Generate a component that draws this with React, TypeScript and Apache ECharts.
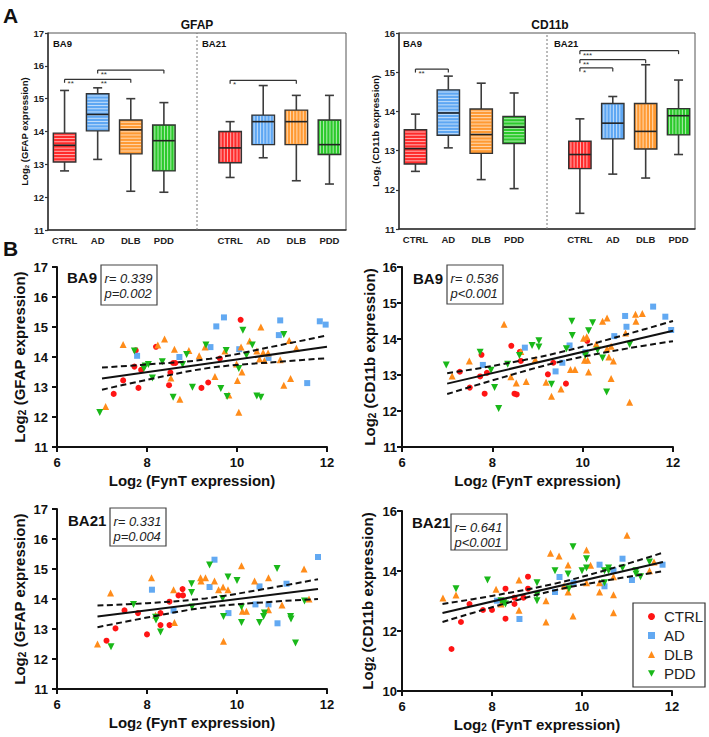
import React, { useEffect, useRef } from 'react';
import * as echarts from 'echarts';

const FONT = '"Liberation Sans", Arial, Helvetica, sans-serif';

const boxCategories = ['CTRL', 'AD', 'DLB', 'PDD', '', 'CTRL', 'AD', 'DLB', 'PDD'];
const groupNames = ['CTRL', 'AD', 'DLB', 'PDD'];

// five-number summaries [min, Q1, median, Q3, max]
const gfapBA9Box = [
  [12.8, 13.07, 13.58, 13.95, 15.25],
  [13.15, 14.02, 14.52, 15.15, 15.33],
  [12.18, 13.32, 14.05, 14.35, 15.0],
  [12.15, 12.8, 13.72, 14.2, 14.88],
];
const gfapBA21Box = [
  [12.6, 13.05, 13.5, 14.0, 14.3],
  [13.2, 13.6, 14.3, 14.5, 15.4],
  [12.5, 13.6, 14.3, 14.65, 15.1],
  [12.4, 13.3, 13.6, 14.35, 15.1],
];
const cd11bBA9Box = [
  [12.47, 12.66, 13.05, 13.53, 13.93],
  [13.07, 13.39, 13.96, 14.55, 14.9],
  [12.26, 12.93, 13.41, 14.06, 14.72],
  [12.03, 13.18, 13.6, 13.87, 14.47],
];
const cd11bBA21Box = [
  [11.4, 12.54, 12.9, 13.24, 13.81],
  [12.4, 13.3, 13.7, 14.2, 14.38],
  [12.3, 13.04, 13.49, 14.2, 15.19],
  [12.9, 13.4, 13.89, 14.07, 14.8],
];
const gfapStripes = ['h', 'h', 'h', 'v', 'v', 'v', 'v', 'v'];
const cd11bStripes = ['h', 'h', 'h', 'h', 'v', 'v', 'v', 'v'];

// brackets [fromCategory, toCategory, level]
const gfapBrackets = [[0, 2, 15.59], [1, 3, 15.87], [5, 7, 15.56]];
const gfapStars = [[0, 15.59], [1, 15.59], [1, 15.87], [5, 15.56]];
const gfapStarText = ['**', '**', '**', '*'];
const cd11bBrackets = [[0, 1, 15.08], [5, 8, 15.55], [5, 7, 15.32], [5, 6, 15.11]];
const cd11bStars = [[0, 15.08], [5, 15.55], [5, 15.32], [5, 15.11]];
const cd11bStarText = ['**', '***', '**', '*'];

// scatter: [log2 FynT, log2 marker]
const ba9GfapCtrl = [[7.75, 14.22], [8.2, 14.34], [7.72, 13.68], [7.87, 13.57], [7.47, 13.22], [7.26, 12.77], [7.81, 12.97], [8.52, 13.48], [8.58, 13.8], [8.63, 13.8], [8.49, 13.06], [9.21, 12.97], [9.36, 13.15], [9.62, 13.95], [10.08, 15.24]];
const ba9GfapAd = [[7.78, 14.04], [8.72, 14.0], [9.41, 14.33], [9.54, 15.02], [9.71, 15.32], [10.05, 14.26], [10.7, 13.97], [10.93, 14.73], [10.96, 15.22], [11.56, 13.13], [11.84, 15.19], [11.97, 15.08]];
const ba9GfapDlb = [[7.08, 12.35], [7.47, 14.42], [8.24, 14.4], [8.39, 14.6], [8.61, 14.26], [8.53, 13.3], [8.73, 12.59], [8.93, 14.22], [9.16, 14.04], [9.29, 14.33], [9.51, 13.35], [9.73, 14.2], [9.82, 12.73], [9.99, 13.77], [10.01, 13.22], [10.04, 12.16], [10.09, 14.33], [10.11, 13.5], [10.28, 14.53], [10.53, 15.0], [10.44, 14.2], [10.5, 13.93], [10.58, 14.15], [10.61, 13.88], [10.69, 14.13], [10.96, 13.91], [11.04, 13.06], [11.16, 14.55], [11.19, 13.28], [11.32, 14.29]];
const ba9GfapPdd = [[6.95, 12.15], [7.72, 14.2], [7.93, 13.62], [7.96, 13.7], [8.03, 13.75], [8.12, 13.3], [8.34, 13.84], [8.58, 12.66], [8.79, 13.75], [8.88, 14.08], [9.01, 12.99], [9.31, 14.4], [9.64, 12.95], [9.76, 14.22], [9.78, 12.68], [10.04, 13.62], [10.13, 14.89], [10.21, 14.06], [10.34, 14.4], [10.44, 12.7], [10.53, 12.66], [11.04, 14.75]];

const ba9Cd11bCtrl = [[7.28, 13.09], [7.5, 12.65], [7.73, 12.96], [7.76, 13.56], [7.83, 12.48], [7.88, 13.06], [8.42, 13.81], [8.49, 12.48], [8.54, 12.46], [8.63, 13.39], [8.61, 13.64], [9.23, 13.02], [9.35, 13.34], [9.63, 12.76], [10.1, 13.95]];
const ba9Cd11bAd = [[7.79, 13.28], [8.72, 13.76], [9.4, 13.1], [9.55, 13.34], [9.71, 13.82], [10.06, 13.63], [10.7, 14.08], [10.94, 14.64], [10.97, 14.34], [11.56, 14.9], [11.83, 14.62], [11.96, 14.25]];
const ba9Cd11bDlb = [[7.11, 12.97], [7.49, 13.39], [8.26, 14.41], [8.41, 12.95], [8.53, 12.78], [8.63, 13.65], [8.75, 12.82], [8.95, 13.43], [9.19, 12.8], [9.31, 12.41], [9.52, 12.61], [9.73, 13.15], [9.83, 13.15], [10.02, 14.02], [10.04, 13.41], [10.09, 14.06], [10.11, 13.41], [10.13, 13.08], [10.3, 13.86], [10.44, 14.49], [10.54, 14.58], [10.54, 13.73], [10.58, 13.5], [10.63, 12.9], [10.63, 13.8], [10.68, 13.39], [10.95, 14.17], [11.04, 12.24], [11.18, 14.49], [11.17, 14.69], [11.32, 14.71]];
const ba9Cd11bPdd = [[6.98, 13.28], [7.73, 13.63], [7.97, 13.13], [8.05, 12.65], [8.14, 12.07], [8.34, 13.3], [8.6, 13.54], [8.88, 13.82], [9.03, 13.95], [9.03, 13.78], [9.31, 12.74], [9.64, 13.73], [9.76, 14.49], [9.77, 14.1], [10.06, 13.54], [10.13, 14.23], [10.22, 14.45], [10.33, 13.69], [10.44, 13.47], [10.53, 12.53], [11.04, 13.85]];

const ba21GfapCtrl = [[7.1, 12.61], [7.3, 13.02], [7.5, 13.62], [7.8, 13.53], [8.0, 12.82], [8.3, 13.53], [8.3, 13.13], [8.5, 13.91], [8.5, 13.13], [8.7, 14.12], [8.8, 14.12], [8.79, 14.33]];
const ba21GfapAd = [[8.11, 14.31], [8.59, 13.62], [9.39, 14.4], [9.5, 15.31], [9.81, 13.53], [10.41, 13.82], [10.5, 14.42], [10.7, 13.82], [10.9, 13.19], [11.1, 14.51], [11.8, 15.4]];
const ba21GfapDlb = [[6.9, 12.5], [7.19, 14.2], [8.1, 14.71], [8.19, 13.46], [8.59, 14.31], [8.61, 13.22], [9.19, 14.71], [9.2, 14.6], [9.3, 14.71], [9.5, 14.6], [9.59, 14.31], [9.69, 14.4], [9.7, 12.59], [9.8, 14.31], [10.1, 15.11], [10.12, 13.59], [10.21, 13.59], [10.39, 14.6], [10.7, 14.71], [10.7, 13.64], [11.0, 13.8], [11.49, 15.0], [11.6, 14.0]];
const ba21GfapPdd = [[7.2, 12.41], [7.7, 13.82], [8.19, 13.39], [8.2, 13.3], [8.3, 12.9], [8.99, 14.51], [8.99, 14.22], [9.0, 13.73], [9.39, 15.13], [9.68, 14.02], [9.7, 13.42], [9.8, 14.73], [10.0, 14.62], [10.1, 13.73], [10.1, 13.22], [10.5, 13.22], [10.59, 13.42], [10.61, 13.53], [10.89, 15.02], [11.19, 13.42], [11.2, 13.33], [11.3, 12.53], [11.5, 13.93]];

const ba21Cd11bCtrl = [[7.1, 11.4], [7.31, 12.3], [7.5, 12.9], [7.8, 12.7], [8.0, 12.7], [8.3, 12.41], [8.3, 13.41], [8.5, 13.11], [8.5, 12.9], [8.7, 13.11], [8.8, 13.41], [8.8, 13.81]];
const ba21Cd11bAd = [[8.11, 13.01], [8.61, 12.4], [9.4, 13.3], [9.5, 13.8], [9.81, 13.61], [10.39, 14.21], [10.5, 13.49], [10.7, 14.01], [10.9, 14.41], [11.11, 13.7], [11.79, 14.21]];
const ba21Cd11bDlb = [[6.91, 13.1], [7.2, 13.2], [8.09, 13.39], [8.2, 12.9], [8.6, 12.69], [8.6, 13.7], [9.2, 12.3], [9.2, 13.01], [9.3, 14.59], [9.49, 14.5], [9.6, 13.5], [9.69, 13.3], [9.69, 14.2], [9.8, 12.5], [10.1, 14.7], [10.1, 13.61], [10.19, 14.19], [10.39, 13.61], [10.39, 13.3], [10.7, 13.81], [10.7, 13.21], [10.7, 12.61], [11.0, 15.19], [11.5, 14.01], [11.6, 14.3]];
const ba21Cd11bPdd = [[7.2, 13.41], [7.9, 13.7], [8.2, 13.01], [8.26, 12.94], [8.3, 12.9], [9.0, 13.61], [9.0, 13.21], [9.0, 13.01], [9.4, 14.01], [9.69, 13.9], [9.71, 13.41], [9.8, 14.81], [10.0, 14.01], [10.1, 14.41], [10.1, 14.1], [10.5, 14.01], [10.5, 13.61], [10.59, 14.1], [10.59, 14.01], [10.9, 14.1], [11.2, 14.01], [11.2, 13.9], [11.3, 13.81], [11.5, 14.3]];

// regression fit and 95% band
const ba9GfapFit = [[7, 13.28], [12, 14.34]];
const ba9GfapUpper = [[7, 13.65], [8, 13.75], [9.4, 13.94], [11, 14.41], [12, 14.72]];
const ba9GfapLower = [[7, 12.91], [8, 13.24], [9.4, 13.64], [11, 13.85], [12, 13.96]];
const ba9Cd11bFit = [[7, 12.76], [12, 14.23]];
const ba9Cd11bUpper = [[7, 13.05], [8, 13.25], [9.5, 13.63], [11, 14.14], [12, 14.5]];
const ba9Cd11bLower = [[7, 12.47], [8, 12.85], [9.5, 13.37], [11, 13.74], [12, 13.94]];
const ba21GfapFit = [[6.9, 13.42], [11.8, 14.33]];
const ba21GfapUpper = [[6.9, 13.78], [8, 13.86], [9.3, 14.02], [10.6, 14.33], [11.8, 14.66]];
const ba21GfapLower = [[6.9, 13.06], [8, 13.38], [9.3, 13.72], [10.6, 13.89], [11.8, 14.0]];
const ba21Cd11bFit = [[6.9, 12.6], [11.8, 14.3]];
const ba21Cd11bUpper = [[6.9, 12.9], [8, 13.17], [9.4, 13.58], [10.6, 14.06], [11.8, 14.61]];
const ba21Cd11bLower = [[6.9, 12.3], [8, 12.79], [9.4, 13.36], [10.6, 13.7], [11.8, 13.99]];

const statsText = [
  ['r= 0.339', 'p=0.002'],
  ['r= 0.536', 'p<0.001'],
  ['r= 0.331', 'p=0.004'],
  ['r= 0.641', 'p<0.001'],
];

const boxColors = ['#ff2b2b', '#5ea7f3', '#ff9a33', '#2bca2b'];
const pointColors = ['#ff1414', '#62a9f2', '#ff8c1a', '#19b819'];
const pointSymbols = ['circle', 'rect', 'triangle', 'path://M0,0L10,0L5,9Z'];
const pointSizes = [6, 6, 7, 7];

function makeBoxSeries(gi: number, rows: number[][], dirs: string[]) {
  return {
    type: 'custom',
    xAxisIndex: gi,
    yAxisIndex: gi,
    silent: true,
    z: 3,
    data: rows,
    encode: { x: 0, y: [1, 2, 3, 4, 5] },
    renderItem: (params: any, api: any) => {
      const cat = api.value(0);
      const cx = api.coord([cat, api.value(3)])[0];
      const slot = api.size([1, 0])[0];
      const half = slot * 0.34;
      const yy = (i: number) => api.coord([cat, api.value(i)])[1];
      const yMin = yy(1), yQ1 = yy(2), yMed = yy(3), yQ3 = yy(4), yMax = yy(5);
      const color = boxColors[params.dataIndex % 4];
      const dir = dirs[params.dataIndex];
      const left = cx - half, right = cx + half;
      const wh = { stroke: '#3c3c3c', lineWidth: 1.6 };
      const children: any[] = [
        { type: 'line', shape: { x1: cx, y1: yMax, x2: cx, y2: yQ3 }, style: wh },
        { type: 'line', shape: { x1: cx, y1: yQ1, x2: cx, y2: yMin }, style: wh },
        { type: 'line', shape: { x1: cx - 4.5, y1: yMax, x2: cx + 4.5, y2: yMax }, style: wh },
        { type: 'line', shape: { x1: cx - 4.5, y1: yMin, x2: cx + 4.5, y2: yMin }, style: wh },
        { type: 'rect', shape: { x: left, y: yQ3, width: right - left, height: yQ1 - yQ3 }, style: { fill: color } },
      ];
      const stripe = { stroke: 'rgba(255,255,255,0.7)', lineWidth: 0.9 };
      if (dir === 'h') {
        for (let y = yQ3 + 2.2; y < yQ1 - 1; y += 3.2) {
          children.push({ type: 'line', shape: { x1: left + 1, y1: y, x2: right - 1, y2: y }, style: stripe });
        }
      } else {
        for (let x = left + 2.2; x < right - 1; x += 3.2) {
          children.push({ type: 'line', shape: { x1: x, y1: yQ3 + 1, x2: x, y2: yQ1 - 1 }, style: stripe });
        }
      }
      children.push({ type: 'line', shape: { x1: left, y1: yMed, x2: right, y2: yMed }, style: { stroke: '#222', lineWidth: 1.6 } });
      children.push({ type: 'rect', shape: { x: left, y: yQ3, width: right - left, height: yQ1 - yQ3 }, style: { fill: 'none', stroke: '#333', lineWidth: 1.4 } });
      return { type: 'group', children };
    },
  };
}

function makeBracketSeries(gi: number, brackets: number[][]) {
  return {
    type: 'custom',
    xAxisIndex: gi,
    yAxisIndex: gi,
    silent: true,
    z: 4,
    data: brackets,
    encode: { x: [0, 1], y: 2 },
    renderItem: (_p: any, api: any) => {
      const a = api.coord([api.value(0), api.value(2)]);
      const b = api.coord([api.value(1), api.value(2)]);
      const st = { stroke: '#333', lineWidth: 1.2 };
      return {
        type: 'group',
        children: [
          { type: 'line', shape: { x1: a[0], y1: a[1], x2: b[0], y2: b[1] }, style: st },
          { type: 'line', shape: { x1: a[0], y1: a[1], x2: a[0], y2: a[1] + 3.5 }, style: st },
          { type: 'line', shape: { x1: b[0], y1: b[1], x2: b[0], y2: b[1] + 3.5 }, style: st },
        ],
      };
    },
  };
}

function makeStarSeries(gi: number, stars: number[][], texts: string[]) {
  return {
    type: 'custom',
    xAxisIndex: gi,
    yAxisIndex: gi,
    silent: true,
    z: 4,
    data: stars,
    encode: { x: 0, y: 1 },
    renderItem: (params: any, api: any) => {
      const p = api.coord([api.value(0), api.value(1)]);
      return {
        type: 'text',
        style: {
          text: texts[params.dataIndex],
          x: p[0] + 3,
          y: p[1] + 0.5,
          fontSize: 8,
          lineHeight: 8,
          fontFamily: FONT,
          fill: '#333',
          align: 'left',
          verticalAlign: 'top',
        },
      };
    },
  };
}

function makeDividerSeries(gi: number, lo: number, hi: number) {
  return {
    type: 'custom',
    xAxisIndex: gi,
    yAxisIndex: gi,
    silent: true,
    z: 2,
    data: [[4, lo, hi]],
    encode: { x: 0, y: [1, 2] },
    renderItem: (_p: any, api: any) => {
      const a = api.coord([api.value(0), api.value(1)]);
      const b = api.coord([api.value(0), api.value(2)]);
      return {
        type: 'line',
        shape: { x1: a[0], y1: a[1], x2: b[0], y2: b[1] },
        style: { stroke: '#777', lineWidth: 1, lineDash: [2, 2] },
      };
    },
  };
}

function nameStyle(size: number) {
  return {
    fontSize: size,
    fontWeight: 'bold',
    fontFamily: FONT,
    color: '#111',
    rich: {
      s: {
        fontSize: Math.round(size * 0.66),
        fontWeight: 'bold',
        fontFamily: FONT,
        color: '#111',
        verticalAlign: 'bottom',
        lineHeight: Math.round(size * 0.66),
        padding: [Math.round(size * 0.4), 0, 0, 0],
      },
    },
  };
}

function boxXAxis(gi: number) {
  return {
    type: 'category',
    gridIndex: gi,
    data: boxCategories,
    axisTick: { show: false },
    axisLine: { lineStyle: { color: '#333', width: 1.5 } },
    axisLabel: { fontSize: 9.5, fontWeight: 'bold', fontFamily: FONT, color: '#222', margin: 5, interval: 0 },
    splitLine: { show: false },
  };
}

function boxYAxis(gi: number, min: number, max: number, label: string, gap: number) {
  return {
    type: 'value',
    gridIndex: gi,
    min,
    max,
    interval: 1,
    axisLine: { show: true, lineStyle: { color: '#333', width: 1.5 } },
    axisTick: { show: true, length: 3, lineStyle: { color: '#333', width: 1.2 } },
    axisLabel: { fontSize: 9.5, fontWeight: 'bold', fontFamily: FONT, color: '#222', margin: 4 },
    splitLine: { show: false },
    name: 'Log{s|2} (' + label + ' expression)',
    nameLocation: 'middle',
    nameGap: gap,
    nameTextStyle: nameStyle(9.5),
  };
}

function scatterXAxis(gi: number) {
  return {
    type: 'value',
    gridIndex: gi,
    min: 6,
    max: 12,
    interval: 2,
    axisLine: { lineStyle: { color: '#111', width: 2 } },
    axisTick: { length: 5, lineStyle: { color: '#111', width: 2 } },
    axisLabel: { fontSize: 13, fontWeight: 'bold', fontFamily: FONT, color: '#111', margin: 9 },
    splitLine: { show: false },
    name: 'Log{s|2} (FynT expression)',
    nameLocation: 'middle',
    nameGap: 26,
    nameTextStyle: nameStyle(15),
  };
}

function scatterYAxis(gi: number, min: number, max: number, interval: number, label: string, margin: number, gap: number) {
  return {
    type: 'value',
    gridIndex: gi,
    min,
    max,
    interval,
    axisLine: { show: true, lineStyle: { color: '#111', width: 2 } },
    axisTick: { show: true, length: 5, lineStyle: { color: '#111', width: 2 } },
    axisLabel: { fontSize: 13, fontWeight: 'bold', fontFamily: FONT, color: '#111', margin },
    splitLine: { show: false },
    name: 'Log{s|2} (' + label + ' expression)',
    nameLocation: 'middle',
    nameGap: gap,
    nameTextStyle: nameStyle(15),
  };
}

function scatterSeries(gi: number, groups: number[][][]) {
  return groups.map((d, k) => ({
    name: groupNames[k],
    type: 'scatter',
    xAxisIndex: gi,
    yAxisIndex: gi,
    data: d,
    symbol: pointSymbols[k],
    symbolSize: pointSizes[k],
    itemStyle: { color: pointColors[k], opacity: 1 },
    z: 3,
  }));
}

function fitSeries(gi: number, fit: number[][], upper: number[][], lower: number[][]) {
  const base = { type: 'line', xAxisIndex: gi, yAxisIndex: gi, showSymbol: false, symbol: 'none', silent: true, z: 6 };
  return [
    { ...base, data: fit, lineStyle: { color: '#111', width: 2 } },
    { ...base, data: upper, smooth: 0.35, lineStyle: { color: '#111', width: 2, type: [6, 3.5] } },
    { ...base, data: lower, smooth: 0.35, lineStyle: { color: '#111', width: 2, type: [6, 3.5] } },
  ];
}

function text(x: number, y: number, t: string, size: number, extra: any = {}) {
  return {
    type: 'text',
    x,
    y,
    style: { text: t, fontSize: size, fontFamily: FONT, fill: '#111', fontWeight: 'bold', align: 'left', verticalAlign: 'middle', ...extra },
  };
}

function statBox(x: number, y: number, w: number, h: number, lines: string[]) {
  return [
    { type: 'rect', shape: { x, y, width: w, height: h }, style: { fill: '#fff', stroke: '#444', lineWidth: 1.2 }, z: 10 },
    { ...text(x + 3.5, y + 13.5, lines[0], 13, { fontStyle: 'italic', fontWeight: 'normal', fill: '#222' }), z: 11 },
    { ...text(x + 3.5, y + 28.5, lines[1], 13, { fontStyle: 'italic', fontWeight: 'normal', fill: '#222' }), z: 11 },
  ];
}

function buildOption() {
  const gfapRows = [...gfapBA9Box.map((b, i) => [i, ...b]), ...gfapBA21Box.map((b, i) => [i + 5, ...b])];
  const cd11bRows = [...cd11bBA9Box.map((b, i) => [i, ...b]), ...cd11bBA21Box.map((b, i) => [i + 5, ...b])];
  return {
    animation: false,
    backgroundColor: '#fff',
    textStyle: { fontFamily: FONT },
    grid: [
      { left: 48, top: 33, width: 298, height: 197, show: true, borderColor: '#555', borderWidth: 1, backgroundColor: 'transparent' },
      { left: 399, top: 33, width: 296, height: 196, show: true, borderColor: '#555', borderWidth: 1, backgroundColor: 'transparent' },
      { left: 57, top: 267, width: 270, height: 180 },
      { left: 402, top: 267, width: 271, height: 180 },
      { left: 57, top: 509, width: 270, height: 180 },
      { left: 402, top: 511, width: 270, height: 180 },
    ],
    xAxis: [boxXAxis(0), boxXAxis(1), scatterXAxis(2), scatterXAxis(3), scatterXAxis(4), scatterXAxis(5)],
    yAxis: [
      boxYAxis(0, 11, 17, 'GFAP', 17),
      boxYAxis(1, 11, 16, 'CD11b', 15),
      scatterYAxis(2, 11, 17, 1, 'GFAP', 9, 30),
      scatterYAxis(3, 11, 16, 1, 'CD11b', 5, 25),
      scatterYAxis(4, 11, 17, 1, 'GFAP', 9, 30),
      scatterYAxis(5, 10, 16, 2, 'CD11b', 5, 27),
    ],
    legend: {
      data: groupNames,
      orient: 'vertical',
      left: 643,
      top: 604,
      itemWidth: 7,
      itemHeight: 7,
      itemGap: 4,
      selectedMode: false,
      textStyle: { fontSize: 15, fontFamily: FONT, color: '#222', lineHeight: 15, padding: [0, 0, 0, 4] },
    },
    graphic: [
      text(3, 15, 'A', 21),
      text(3, 248, 'B', 21),
      text(197, 25, 'GFAP', 12, { align: 'center' }),
      text(550, 25, 'CD11b', 12, { align: 'center' }),
      text(53, 43, 'BA9', 9.5),
      text(202, 43, 'BA21', 9.5),
      text(403, 43, 'BA9', 9.5),
      text(554, 43, 'BA21', 9.5),
      text(67, 277, 'BA9', 15),
      text(413, 278, 'BA9', 15),
      text(68, 520, 'BA21', 15),
      text(412, 522, 'BA21', 15),
      ...statBox(101, 265, 56, 40, statsText[0]),
      ...statBox(447, 265, 56, 39, statsText[1]),
      ...statBox(110, 508, 56, 38, statsText[2]),
      ...statBox(451, 514, 56, 36, statsText[3]),
      { type: 'rect', shape: { x: 633, y: 603, width: 72, height: 84 }, style: { fill: 'none', stroke: '#333', lineWidth: 1.2 }, z: 10 },
    ],
    series: [
      makeDividerSeries(0, 11, 17),
      makeBoxSeries(0, gfapRows, gfapStripes),
      makeBracketSeries(0, gfapBrackets),
      makeStarSeries(0, gfapStars, gfapStarText),
      makeDividerSeries(1, 11, 16),
      makeBoxSeries(1, cd11bRows, cd11bStripes),
      makeBracketSeries(1, cd11bBrackets),
      makeStarSeries(1, cd11bStars, cd11bStarText),
      ...scatterSeries(2, [ba9GfapCtrl, ba9GfapAd, ba9GfapDlb, ba9GfapPdd]),
      ...fitSeries(2, ba9GfapFit, ba9GfapUpper, ba9GfapLower),
      ...scatterSeries(3, [ba9Cd11bCtrl, ba9Cd11bAd, ba9Cd11bDlb, ba9Cd11bPdd]),
      ...fitSeries(3, ba9Cd11bFit, ba9Cd11bUpper, ba9Cd11bLower),
      ...scatterSeries(4, [ba21GfapCtrl, ba21GfapAd, ba21GfapDlb, ba21GfapPdd]),
      ...fitSeries(4, ba21GfapFit, ba21GfapUpper, ba21GfapLower),
      ...scatterSeries(5, [ba21Cd11bCtrl, ba21Cd11bAd, ba21Cd11bDlb, ba21Cd11bPdd]),
      ...fitSeries(5, ba21Cd11bFit, ba21Cd11bUpper, ba21Cd11bLower),
    ],
  };
}

export default function App() {
  const ref = useRef<HTMLDivElement>(null);
  useEffect(() => {
    document.body.style.margin = '0';
    const chart = echarts.init(ref.current as HTMLDivElement, null, { renderer: 'svg' });
    chart.setOption(buildOption() as any);
    return () => chart.dispose();
  }, []);
  return <div ref={ref} style={{ width: 709, height: 737 }} />;
}
